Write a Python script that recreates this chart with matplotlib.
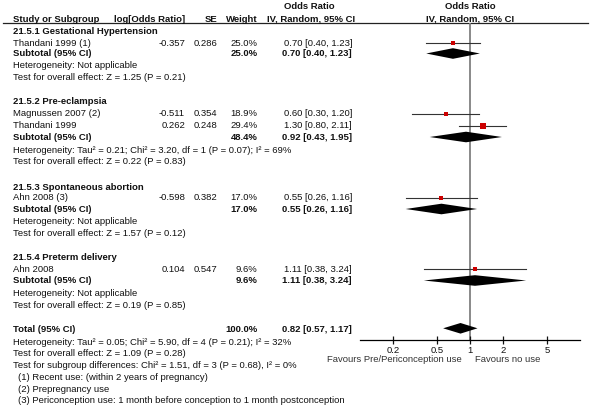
import numpy as np
import matplotlib.pyplot as plt
from matplotlib.ticker import NullLocator

plt.rcParams['font.family'] = ['Liberation Sans', 'DejaVu Sans']

# study level data
study_names = ["Thandani 1999 (1)", "Magnussen 2007 (2)", "Thandani 1999", "Ahn 2008 (3)", "Ahn 2008"]
study_group = [0, 1, 1, 2, 3]
log_or = [-0.357, -0.511, 0.262, -0.598, 0.104]
se = [0.286, 0.354, 0.248, 0.382, 0.547]
weight = [25.0, 18.9, 29.4, 17.0, 9.6]
study_or = [0.70, 0.60, 1.30, 0.55, 1.11]
study_lo = [0.40, 0.30, 0.80, 0.26, 0.38]
study_hi = [1.23, 1.20, 2.11, 1.16, 3.24]

# subgroup data
group_titles = ["21.5.1 Gestational Hypertension", "21.5.2 Pre-eclampsia",
                "21.5.3 Spontaneous abortion", "21.5.4 Preterm delivery"]
sub_weight = [25.0, 48.4, 17.0, 9.6]
sub_or = [0.70, 0.92, 0.55, 1.11]
sub_lo = [0.40, 0.43, 0.26, 0.38]
sub_hi = [1.23, 1.95, 1.16, 3.24]
sub_het = ["Heterogeneity: Not applicable",
           "Heterogeneity: Tau² = 0.21; Chi² = 3.20, df = 1 (P = 0.07); I² = 69%",
           "Heterogeneity: Not applicable",
           "Heterogeneity: Not applicable"]
sub_test = ["Test for overall effect: Z = 1.25 (P = 0.21)",
            "Test for overall effect: Z = 0.22 (P = 0.83)",
            "Test for overall effect: Z = 1.57 (P = 0.12)",
            "Test for overall effect: Z = 0.19 (P = 0.85)"]

# overall
total_weight = 100.0
total_or, total_lo, total_hi = 0.82, 0.57, 1.17
total_notes = ["Heterogeneity: Tau² = 0.05; Chi² = 5.90, df = 4 (P = 0.21); I² = 32%",
               "Test for overall effect: Z = 1.09 (P = 0.28)",
               "Test for subgroup differences: Chi² = 1.51, df = 3 (P = 0.68), I² = 0%"]
footnotes = ["(1) Recent use: (within 2 years of pregnancy)",
             "(2) Prepregnancy use",
             "(3) Periconception use: 1 month before conception to 1 month postconception"]
tick_vals = [0.2, 0.5, 1, 2, 5]
tick_labels = ["0.2", "0.5", "1", "2", "5"]

# row layout (pixel rows, top = 0)
head_y = [31, 102, 187.5, 257]
study_y = [43, 114, 126, 198, 269]
sub_y = [53.5, 137, 209, 280.5]
het_y = [66, 150.5, 222, 294]
test_y = [77.5, 162, 233.5, 305.5]
total_y = 330
notes_y = [342.5, 354, 365.5]
foot_y = [377.5, 389, 400.5]

FS = 6.8
TXT = '#111111'
x_name, x_lor, x_se, x_w, x_ci = 13, 185, 217.5, 257.5, 352

fig = plt.figure(figsize=(6, 4.2), dpi=100)
ax = fig.add_axes([0, 0, 1, 1])
ax.set_xlim(0, 600)
ax.set_ylim(420, 0)
ax.axis('off')

def txt(x, y, s, ha='left', bold=False, color=TXT):
    ax.text(x, y, s, ha=ha, va='center', fontsize=FS, color=color,
            fontweight='bold' if bold else 'normal')

# header
txt(309, 6.5, "Odds Ratio", ha='center', bold=True)
txt(470, 6.5, "Odds Ratio", ha='center', bold=True)
txt(x_name, 19, "Study or Subgroup", bold=True)
txt(x_lor, 19, "log[Odds Ratio]", ha='right', bold=True)
txt(x_se, 19, "SE", ha='right', bold=True)
txt(x_w, 19, "Weight", ha='right', bold=True)
txt(311, 19, "IV, Random, 95% CI", ha='center', bold=True)
txt(470, 19, "IV, Random, 95% CI", ha='center', bold=True)
ax.plot([3, 588], [23, 23], color='#222222', lw=0.9)

# forest axes
fa = fig.add_axes([360 / 600, (420 - 340) / 420, 220 / 600, (340 - 23) / 420])
fa.set_xscale('log')
fa.set_xlim(0.1, 10)
fa.set_ylim(340, 23)
fa.patch.set_alpha(0)
for s in ['top', 'left', 'right']:
    fa.spines[s].set_visible(False)
fa.spines['bottom'].set_linewidth(0.9)
fa.set_yticks([])
fa.set_xticks(tick_vals)
fa.set_xticklabels(tick_labels)
fa.xaxis.set_minor_locator(NullLocator())
fa.tick_params(axis='x', direction='inout', length=6, width=0.9, labelsize=FS, pad=1.2, colors=TXT)
fa.axvline(1, color='#808080', lw=1.3, zorder=1)

DH = 5.3
for g, title in enumerate(group_titles):
    txt(x_name, head_y[g], title, bold=True)
    txt(x_name, sub_y[g], "Subtotal (95% CI)", bold=True)
    txt(x_w, sub_y[g], f"{sub_weight[g]:.1f}%", ha='right', bold=True)
    txt(x_ci, sub_y[g], f"{sub_or[g]:.2f} [{sub_lo[g]:.2f}, {sub_hi[g]:.2f}]", ha='right', bold=True)
    txt(x_name, het_y[g], sub_het[g])
    txt(x_name, test_y[g], sub_test[g])
    y = sub_y[g]
    fa.fill([sub_lo[g], sub_or[g], sub_hi[g], sub_or[g]], [y, y - DH, y, y + DH],
            color='black', lw=0, zorder=3)

for i, name in enumerate(study_names):
    y = study_y[i]
    txt(x_name, y, name)
    txt(x_lor, y, f"{log_or[i]:.3f}", ha='right')
    txt(x_se, y, f"{se[i]:.3f}", ha='right')
    txt(x_w, y, f"{weight[i]:.1f}%", ha='right')
    txt(x_ci, y, f"{study_or[i]:.2f} [{study_lo[i]:.2f}, {study_hi[i]:.2f}]", ha='right')
    fa.plot([study_lo[i], study_hi[i]], [y, y], color='#333333', lw=0.8, zorder=2)
    fa.plot(study_or[i], y, 's', ms=np.sqrt(weight[i]) * 0.7, color='#cc0000',
            mec='#cc0000', mew=0, zorder=4)

# total
txt(x_name, total_y, "Total (95% CI)", bold=True)
txt(x_w, total_y, f"{total_weight:.1f}%", ha='right', bold=True)
txt(x_ci, total_y, f"{total_or:.2f} [{total_lo:.2f}, {total_hi:.2f}]", ha='right', bold=True)
ty = total_y - 1.7
fa.fill([total_lo, total_or, total_hi, total_or], [ty, ty - DH, ty, ty + DH],
        color='black', lw=0, zorder=3)
for y, s in zip(notes_y, total_notes):
    txt(x_name, y, s)
for y, s in zip(foot_y, footnotes):
    txt(18, y, s)

txt(462, 359.5, "Favours Pre/Periconception use", ha='right', color='#333333')
txt(475, 359.5, "Favours no use", color='#333333')

fig.savefig("out.png", dpi=100)
